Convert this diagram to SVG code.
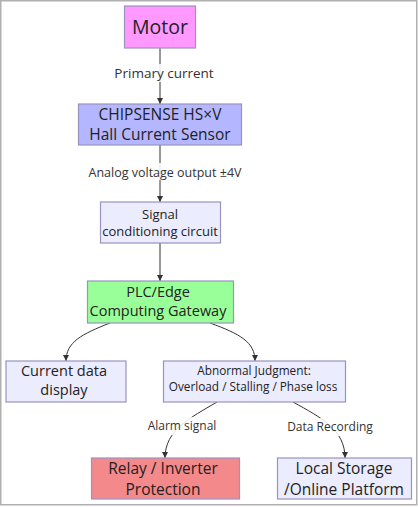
<svg xmlns="http://www.w3.org/2000/svg" width="418" height="507" viewBox="0 0 418 507">
<defs>
<marker id="arr" viewBox="0 0 10 10" refX="10" refY="5" markerWidth="6" markerHeight="6" orient="auto-start-reverse" markerUnits="userSpaceOnUse">
<path d="M0,0 L10,5 L0,10 z" fill="#333"/>
</marker>
<style>
.n{stroke:#9a93c0;stroke-width:1.2}
.t{font-family:"Open Sans","Liberation Sans",sans-serif;fill:#222;text-anchor:middle}
.e{fill:none;stroke:#333;stroke-width:1;marker-end:url(#arr)}
.lb{fill:#fff;opacity:0.85}
.el{font-family:"Open Sans","Liberation Sans",sans-serif;fill:#333;text-anchor:middle;font-size:12px}
</style>
</defs>
<rect x="0" y="0" width="418" height="507" fill="#fff"/>
<rect x="0.75" y="0.75" width="416" height="504" fill="none" stroke="#b0b0b0" stroke-width="1.5"/>

<g id="connectors">
<path class="e" d="M160,48 L160,104"/>
<path class="e" d="M160,145 L160,202"/>
<path class="e" d="M160,243 L160,281"/>
<path class="e" d="M110,323 C82,334 66,342 66,361"/>
<path class="e" d="M210,323 C240,334 255,342 255,361"/>
<path class="e" d="M217,402 C190,418 165,430 165,458"/>
<path class="e" d="M293,402 C322,418 345,430 345,458"/>
<rect class="lb" x="112" y="64" width="104" height="18"/>
<text class="el" x="164" y="78" style="font-size:13.5px">Primary current</text>
<rect class="lb" x="84" y="163" width="162" height="17"/>
<text class="el" x="165" y="176.5" style="font-size:12.5px">Analog voltage output ±4V</text>
<rect class="lb" x="146" y="417" width="72" height="18"/>
<text class="el" x="182" y="430">Alarm signal</text>
<rect class="lb" x="286" y="418" width="88" height="18"/>
<text class="el" x="330" y="431">Data Recording</text>
</g>

<g id="motor">
<rect class="n" x="124.5" y="6" width="71" height="42" fill="#ff99ff"/>
<text class="t" x="160" y="34" font-size="19.5">Motor</text>
</g>
<g id="sensor">
<rect class="n" x="78.5" y="104" width="163" height="41" fill="#b4b6ff"/>
<text class="t" x="160" y="119.5" font-size="15.5">CHIPSENSE HS×V</text>
<text class="t" x="160" y="139.5" font-size="15.5">Hall Current Sensor</text>
</g>
<g id="conditioning">
<rect class="n" x="100.5" y="202" width="120" height="41" fill="#ececff"/>
<text class="t" x="160" y="219" font-size="13">Signal</text>
<text class="t" x="160" y="236" font-size="13">conditioning circuit</text>
</g>
<g id="gateway">
<rect class="n" x="87.5" y="281" width="146" height="42" fill="#99ff99"/>
<text class="t" x="158" y="297" font-size="14.5">PLC/Edge</text>
<text class="t" x="158" y="316" font-size="14.5">Computing Gateway</text>
</g>
<g id="display">
<rect class="n" x="6" y="361" width="120" height="41" fill="#ececff"/>
<text class="t" x="64" y="376" font-size="14.5">Current data</text>
<text class="t" x="64" y="395" font-size="14.5">display</text>
</g>
<g id="abnormal">
<rect class="n" x="163.5" y="361" width="182" height="41" fill="#ececff"/>
<text class="t" x="254" y="375" font-size="11.8">Abnormal Judgment:</text>
<text class="t" x="253" y="391" font-size="11.8">Overload / Stalling / Phase loss</text>
</g>
<g id="relay">
<rect class="n" x="91.5" y="458" width="148" height="41" fill="#f4898b"/>
<text class="t" x="163" y="473.5" font-size="15.5">Relay / Inverter</text>
<text class="t" x="163" y="494.5" font-size="15.5">Protection</text>
</g>
<g id="storage">
<rect class="n" x="277.5" y="458" width="134" height="41" fill="#ececff"/>
<text class="t" x="344" y="474" font-size="15.5">Local Storage</text>
<text class="t" x="344" y="494.5" font-size="15.5">/Online Platform</text>
</g>
</svg>
